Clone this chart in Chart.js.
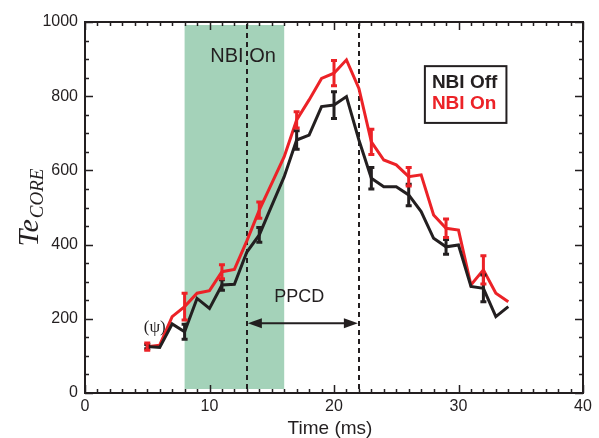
<!DOCTYPE html>
<html>
<head>
<meta charset="utf-8">
<script src="https://cdn.jsdelivr.net/npm/chart.js@4/dist/chart.umd.min.js"></script>
<style>
  html, body { margin: 0; padding: 0; background: #fff; }
  #teChart { display: block; }
</style>
</head>
<body>
<canvas id="teChart" width="599" height="438"></canvas>
<script>
// time (ms) and core electron temperature
const times = [5, 6, 7, 8, 9, 10, 11, 12, 13, 14, 15, 16, 17, 18, 19, 20, 21, 22, 23, 24, 25, 26, 27, 28, 29, 30, 31, 32, 33, 34];
const nbiOff = [125, 123, 186, 165, 255, 228, 291, 293, 380, 426, 505, 583, 682, 695, 772, 776, 799, 682, 579, 556, 556, 534, 489, 417, 394, 399, 287, 282, 206, 233];
const nbiOn = [125, 129, 206, 233, 269, 276, 327, 333, 410, 493, 565, 637, 736, 790, 848, 862, 898, 821, 677, 628, 615, 583, 588, 480, 444, 439, 291, 332, 269, 246];

// error bars
const errTimes = [5, 8, 11, 14, 17, 20, 23, 26, 29, 32];
const nbiOffErr = [6, 20, 14, 20, 25, 36, 29, 29, 20, 36];
const nbiOnErr = [10, 36, 19, 22, 22, 34, 34, 25, 25, 38];

const xTicks = [0, 10, 20, 30, 40];
const yTicks = [0, 200, 400, 600, 800, 1000];

const beamWindow = [8, 16];   // NBI on (shaded)
const ppcdWindow = [13, 22];  // dashed lines + arrow

const RED = '#ec2227';
const BLACK = '#231f20';
const SANS = '"Liberation Sans", Arial, sans-serif';
const SERIF = '"Liberation Serif", "Times New Roman", serif';

const pts = (ys) => times.map((t, i) => ({ x: t, y: ys[i] }));

const decorations = {
    id: 'decorations',
    beforeDatasetsDraw(chart) {
        const { ctx, chartArea: a, scales: { x, y } } = chart;
        ctx.save();
        // shaded beam window
        ctx.fillStyle = '#a4d2b9';
        const x0 = x.getPixelForValue(beamWindow[0]);
        const x1 = x.getPixelForValue(beamWindow[1]);
        ctx.fillRect(x0, a.top + 3, x1 - x0, a.bottom - a.top - 7);

        // dashed lines
        ctx.strokeStyle = BLACK;
        ctx.lineWidth = 2;
        ctx.setLineDash([5, 4]);
        ppcdWindow.forEach(t => {
            const px = Math.round(x.getPixelForValue(t));
            ctx.beginPath();
            ctx.moveTo(px, a.top + 2);
            ctx.lineTo(px, a.bottom);
            ctx.stroke();
        });
        ctx.setLineDash([]);

        // PPCD arrow
        const ay = y.getPixelForValue(188);
        const ax0 = x.getPixelForValue(ppcdWindow[0]) + 1;
        const ax1 = x.getPixelForValue(ppcdWindow[1]) - 1;
        ctx.beginPath();
        ctx.moveTo(ax0 + 10, ay);
        ctx.lineTo(ax1 - 10, ay);
        ctx.stroke();
        ctx.fillStyle = BLACK;
        ctx.beginPath();
        ctx.moveTo(ax0, ay); ctx.lineTo(ax0 + 14, ay - 5); ctx.lineTo(ax0 + 14, ay + 5); ctx.closePath();
        ctx.fill();
        ctx.beginPath();
        ctx.moveTo(ax1, ay); ctx.lineTo(ax1 - 14, ay - 5); ctx.lineTo(ax1 - 14, ay + 5); ctx.closePath();
        ctx.fill();

        // texts
        ctx.fillStyle = BLACK;
        ctx.textAlign = 'center';
        ctx.textBaseline = 'middle';
        ctx.font = '18px ' + SANS;
        ctx.fillText('PPCD', x.getPixelForValue(17.2), y.getPixelForValue(258));
        ctx.font = '20px ' + SANS;
        ctx.fillText('NBI On', x.getPixelForValue(12.7), y.getPixelForValue(906));
        ctx.font = '17px ' + SERIF;
        ctx.fillText('(ψ)', x.getPixelForValue(5.6), y.getPixelForValue(177));
        ctx.restore();
    },
    afterDatasetsDraw(chart) {
        const { ctx, chartArea: a, scales: { x, y } } = chart;
        ctx.save();
        // error bars
        const drawErr = (vals, errs, color) => {
            ctx.strokeStyle = color;
            ctx.lineWidth = 3;
            errTimes.forEach((t, i) => {
                const v = vals[times.indexOf(t)];
                const px = x.getPixelForValue(t);
                const top = y.getPixelForValue(v + errs[i]);
                const bot = y.getPixelForValue(v - errs[i]);
                ctx.beginPath();
                ctx.moveTo(px, top); ctx.lineTo(px, bot);
                ctx.moveTo(px - 3, top); ctx.lineTo(px + 3, top);
                ctx.moveTo(px - 3, bot); ctx.lineTo(px + 3, bot);
                ctx.stroke();
            });
        };
        drawErr(nbiOff, nbiOffErr, BLACK);
        drawErr(nbiOn, nbiOnErr, RED);

        // frame + inward ticks on all sides
        ctx.strokeStyle = BLACK;
        ctx.lineWidth = 2;
        ctx.strokeRect(a.left, a.top, a.right - a.left, a.bottom - a.top);
        ctx.lineWidth = 1.5;
        ctx.beginPath();
        for (let t = 0; t <= 40; t++) {
            const len = t % 10 === 0 ? 8 : 4;
            const px = Math.round(x.getPixelForValue(t)) + 0.5;
            ctx.moveTo(px, a.bottom); ctx.lineTo(px, a.bottom - len);
            ctx.moveTo(px, a.top); ctx.lineTo(px, a.top + len);
        }
        for (let v = 0; v <= 1000; v += 50) {
            const len = v % 200 === 0 ? 8 : 4;
            const py = Math.round(y.getPixelForValue(v)) + 0.5;
            ctx.moveTo(a.left, py); ctx.lineTo(a.left + len, py);
            ctx.moveTo(a.right, py); ctx.lineTo(a.right - len, py);
        }
        ctx.stroke();

        // legend box
        const lx0 = x.getPixelForValue(27.3), lx1 = x.getPixelForValue(33.85);
        const ly0 = y.getPixelForValue(881), ly1 = y.getPixelForValue(728);
        ctx.lineWidth = 2;
        ctx.strokeRect(lx0, ly0, lx1 - lx0, ly1 - ly0);
        ctx.font = 'bold 19px ' + SANS;
        ctx.textAlign = 'left';
        ctx.textBaseline = 'middle';
        ctx.fillStyle = BLACK;
        ctx.fillText('NBI Off', lx0 + 7, ly0 + 17);
        ctx.fillStyle = RED;
        ctx.fillText('NBI On', lx0 + 7, ly0 + 38);

        // axis titles
        ctx.fillStyle = BLACK;
        ctx.textAlign = 'center';
        ctx.textBaseline = 'alphabetic';
        ctx.font = '19px ' + SANS;
        ctx.fillText('Time (ms)', (a.left + a.right) / 2 - 4, 434);

        ctx.translate(38, 208);
        ctx.rotate(-Math.PI / 2);
        ctx.textAlign = 'left';
        ctx.font = 'italic 30px ' + SERIF;
        const w1 = ctx.measureText('Te').width;
        ctx.font = 'italic 19px ' + SERIF;
        const w2 = ctx.measureText('CORE').width;
        const start = -(w1 + w2) / 2;
        ctx.font = 'italic 30px ' + SERIF;
        ctx.fillText('Te', start, 0);
        ctx.font = 'italic 19px ' + SERIF;
        ctx.fillText('CORE', start + w1 + 1, 5);
        ctx.restore();
    }
};

const chart = new Chart(document.getElementById('teChart'), {
    type: 'line',
    data: {
        datasets: [
            { label: 'NBI Off', data: pts(nbiOff), borderColor: BLACK, borderWidth: 3, pointRadius: 0, tension: 0 },
            { label: 'NBI On', data: pts(nbiOn), borderColor: RED, borderWidth: 3, pointRadius: 0, tension: 0 }
        ]
    },
    options: {
        responsive: false,
        animation: false,
        devicePixelRatio: 1,
        layout: { padding: { top: 22, right: 16, left: 0, bottom: 0 } },
        plugins: { legend: { display: false }, tooltip: { enabled: false } },
        scales: {
            x: {
                type: 'linear', min: 0, max: 40,
                afterBuildTicks: (s) => { s.ticks = xTicks.map(v => ({ value: v })); },
                afterFit: (s) => { s.height = 45; },
                grid: { display: false, drawTicks: false },
                border: { display: false },
                ticks: { color: BLACK, padding: 4, font: { family: SANS, size: 16 }, callback: (v) => String(v) }
            },
            y: {
                min: 0, max: 1000,
                afterBuildTicks: (s) => { s.ticks = yTicks.map(v => ({ value: v })); },
                afterFit: (s) => { s.width = 85; },
                grid: { display: false, drawTicks: false },
                border: { display: false },
                ticks: { color: BLACK, padding: 7, font: { family: SANS, size: 16 }, callback: (v) => String(v) }
            }
        }
    },
    plugins: [decorations]
});
</script>
</body>
</html>
